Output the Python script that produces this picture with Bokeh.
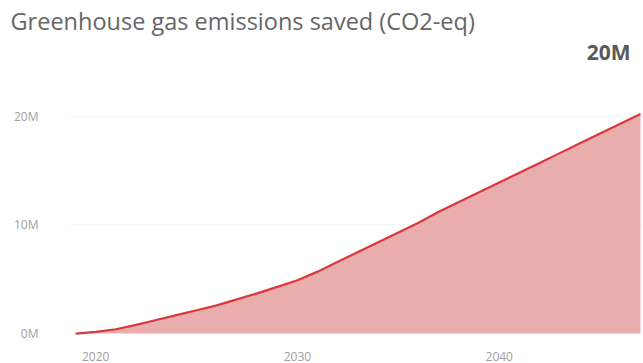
from bokeh.plotting import figure
from bokeh.models import Range1d, FixedTicker, ColumnDataSource, Title
from bokeh.embed import file_html
from bokeh.resources import INLINE

title_text = "Greenhouse gas emissions saved (CO2-eq)"
card_text = "20M"
years = list(range(2019, 2048))
saved_m = [0.0, 0.15, 0.4, 0.8, 1.25, 1.7, 2.15, 2.6, 3.15, 3.7, 4.3, 4.9,
           5.7, 6.6, 7.5, 8.4, 9.3, 10.2, 11.2, 12.1, 13.0, 13.9, 14.8,
           15.7, 16.6, 17.5, 18.4, 19.3, 20.2]
x_ticks = [2020, 2030, 2040]
y_ticks = [0, 10, 20]
y_tick_labels = ["0M", "10M", "20M"]

src = ColumnDataSource(dict(x=years, y=saved_m, base=[0.0] * len(years)))

p = figure(width=643, height=363, output_backend="svg", toolbar_location=None,
           x_range=Range1d(2018.75, 2047.15), y_range=Range1d(-0.36, 22.36),
           min_border_left=70, min_border_right=0, min_border_top=90,
           min_border_bottom=23)
p.outline_line_color = None
p.background_fill_color = "white"
p.border_fill_color = "white"

p.varea(x="x", y1="base", y2="y", source=src, fill_color="#E8ADAC", fill_alpha=1.0)
p.line(x="x", y="y", source=src, line_color="#D9393B", line_width=2.2)

p.xgrid.grid_line_color = None
p.ygrid.grid_line_color = "#F4F4F4"
p.ygrid.ticker = FixedTicker(ticks=[10, 20])

p.xaxis.ticker = FixedTicker(ticks=x_ticks)
p.yaxis.ticker = FixedTicker(ticks=y_ticks)
p.yaxis.major_label_overrides = {t: l for t, l in zip(y_ticks, y_tick_labels)}
for ax in (p.xaxis, p.yaxis):
    ax.axis_line_color = None
    ax.major_tick_line_color = None
    ax.minor_tick_line_color = None
    ax.major_label_text_color = "#A0A0A0"
    ax.major_label_text_font = "Open Sans"
    ax.major_label_text_font_size = "12px"
p.yaxis.major_label_standoff = 26
p.xaxis.major_label_standoff = 8

p.add_layout(Title(text=card_text, align="right", text_font="Open Sans",
                   text_font_size="21px", text_color="#5A5A5A",
                   text_font_style="bold", standoff=50, offset=13), "above")
p.add_layout(Title(text=title_text, align="left", text_font="Open Sans",
                   text_font_size="23.5px", text_color="#666666",
                   text_font_style="normal", standoff=-52, offset=-60), "above")

open("out.html", "w").write(file_html(p, INLINE))
